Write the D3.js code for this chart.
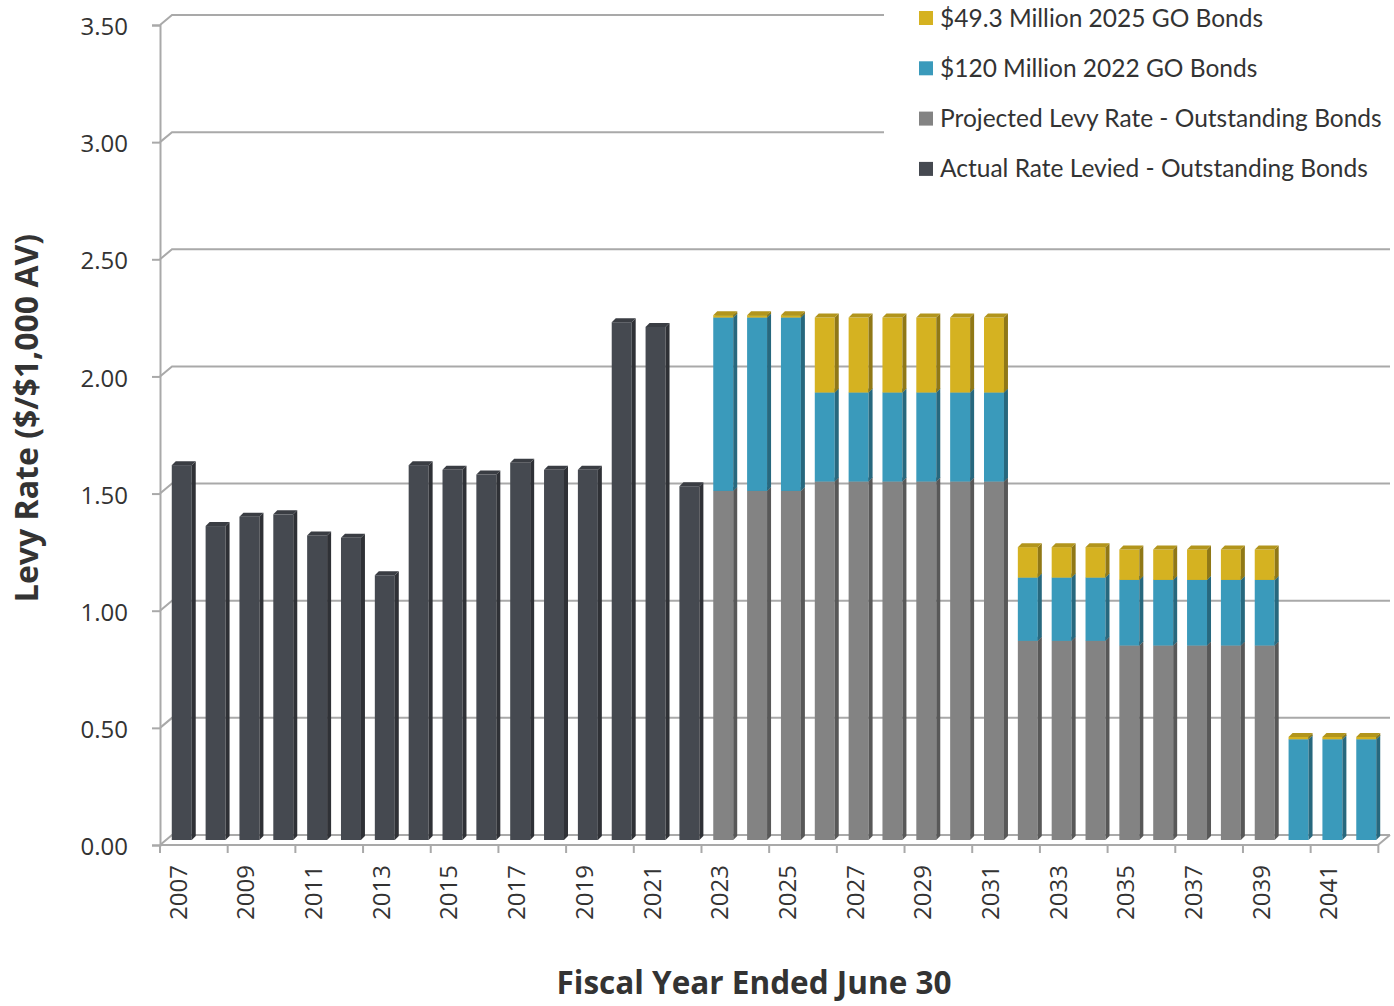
<!DOCTYPE html>
<html>
<head>
<meta charset="utf-8">
<script src="https://cdn.jsdelivr.net/npm/d3@7"></script>
<style>
  body { margin: 0; background: #fff; }
  .chart text { font-family: "Open Sans", sans-serif; fill: #333; }
  .legend text { font-family: Lato, "Open Sans", sans-serif; }
</style>
</head>
<body>
<div class="chart"></div>
<script>
'use strict';
(function() {
  // Data
  var years = ['2007','2008','2009','2010','2011','2012','2013','2014','2015','2016','2017','2018',
    '2019','2020','2021','2022','2023','2024','2025','2026','2027','2028','2029','2030','2031',
    '2032','2033','2034','2035','2036','2037','2038','2039','2040','2041','2042'];
  var actual = [1.60, 1.34, 1.38, 1.39, 1.30, 1.29, 1.13, 1.60, 1.58, 1.56, 1.61, 1.58, 1.58, 2.21, 2.19, 1.51,
    0, 0, 0, 0, 0, 0, 0, 0, 0, 0, 0, 0, 0, 0, 0, 0, 0, 0, 0, 0];
  var projected = [0, 0, 0, 0, 0, 0, 0, 0, 0, 0, 0, 0, 0, 0, 0, 0,
    1.49, 1.49, 1.49, 1.53, 1.53, 1.53, 1.53, 1.53, 1.53, 0.85, 0.85, 0.85, 0.83, 0.83, 0.83, 0.83, 0.83, 0, 0, 0];
  var go2022 = [0, 0, 0, 0, 0, 0, 0, 0, 0, 0, 0, 0, 0, 0, 0, 0,
    0.74, 0.74, 0.74, 0.38, 0.38, 0.38, 0.38, 0.38, 0.38, 0.27, 0.27, 0.27, 0.28, 0.28, 0.28, 0.28, 0.28, 0.43, 0.43, 0.43];
  var go2025 = [0, 0, 0, 0, 0, 0, 0, 0, 0, 0, 0, 0, 0, 0, 0, 0,
    0.01, 0.01, 0.01, 0.32, 0.32, 0.32, 0.32, 0.32, 0.32, 0.13, 0.13, 0.13, 0.13, 0.13, 0.13, 0.13, 0.13, 0.01, 0.01, 0.01];
  var yTicks = [0, 0.5, 1, 1.5, 2, 2.5, 3, 3.5];
  var labelYears = ['2007','2009','2011','2013','2015','2017','2019','2021','2023','2025','2027','2029',
    '2031','2033','2035','2037','2039','2041'];

  var KEYS = ['actual', 'projected', 'go2022', 'go2025'];
  var NAMES = {
    go2025: '$49.3 Million 2025 GO Bonds',
    go2022: '$120 Million 2022 GO Bonds',
    projected: 'Projected Levy Rate - Outstanding Bonds',
    actual: 'Actual Rate Levied - Outstanding Bonds'
  };
  var COLORS = { actual: '#454950', projected: '#838383', go2022: '#3a9abb', go2025: '#d5b221' };

  // Sizes
  var w = 1394;
  var h = 1006;
  var left = 160;
  var right = 1378;
  var top = 25;
  var bottom = 845;
  // 3d offsets: back wall and bar plane
  var backX = 12, backY = -10;
  var barX = 5, barY = -5;
  var depthX = 4, depthY = -4;

  var rows = years.map(function(y, i) {
    return { year: y, actual: actual[i], projected: projected[i], go2022: go2022[i], go2025: go2025[i] };
  });
  var series = d3.stack().keys(KEYS)(rows);

  var xScale = d3.scaleBand()
    .domain(years)
    .range([left, right])
    .paddingInner(0.41)
    .paddingOuter(0.2);

  var yScale = d3.scaleLinear()
    .domain([0, 3.5])
    .range([bottom, top]);

  var svg = d3.select('.chart')
    .append('svg')
    .attr('width', w)
    .attr('height', h);

  var gridColor = '#a9a9a9';

  // Back wall gridlines
  var grid = svg.append('g').attr('class', 'grid');
  grid.selectAll('polyline')
    .data(yTicks)
    .enter()
    .append('polyline')
    .attr('points', function(d) {
      var y = yScale(d);
      return left + ',' + y + ' ' + (left + backX) + ',' + (y + backY) + ' ' + (w - 4) + ',' + (y + backY);
    })
    .attr('fill', 'none')
    .attr('stroke', gridColor)
    .attr('stroke-width', 2);

  // Floor front edge and right edge
  grid.append('polyline')
    .attr('points', left + ',' + bottom + ' ' + right + ',' + bottom + ' ' + (right + backX) + ',' + (bottom + backY))
    .attr('fill', 'none')
    .attr('stroke', gridColor)
    .attr('stroke-width', 2);

  // Legend background hides gridlines
  svg.append('rect')
    .attr('x', 884)
    .attr('y', 0)
    .attr('width', w - 884)
    .attr('height', 192)
    .attr('fill', '#fff');

  // Y axis
  var yAxis = d3.axisLeft(yScale)
    .tickValues(yTicks)
    .tickSize(8)
    .tickPadding(24)
    .tickFormat(d3.format('.2f'));

  var yg = svg.append('g')
    .attr('class', 'axis')
    .attr('transform', 'translate(' + left + ',0)')
    .call(yAxis);
  yg.select('.domain').attr('stroke', gridColor).attr('stroke-width', 2);
  yg.selectAll('.tick line').attr('stroke', gridColor).attr('stroke-width', 2);
  yg.selectAll('.tick text')
    .attr('font-size', '24px')
    .attr('dy', '0.4em')
    .attr('font-family', '"Open Sans", sans-serif')
    .attr('fill', '#333');

  // X axis ticks every two years at category boundaries
  var step = xScale.step();
  var xg = svg.append('g').attr('class', 'xaxis');
  xg.selectAll('line')
    .data(labelYears.concat(['end']))
    .enter()
    .append('line')
    .attr('x1', function(d, i) { return left + i * 2 * step; })
    .attr('x2', function(d, i) { return left + i * 2 * step; })
    .attr('y1', bottom)
    .attr('y2', bottom + 8)
    .attr('stroke', gridColor)
    .attr('stroke-width', 2);

  xg.selectAll('text')
    .data(labelYears)
    .enter()
    .append('text')
    .text(function(d) { return d; })
    .attr('transform', function(d) {
      var cx = xScale(d) + xScale.bandwidth() / 2 + 10;
      return 'translate(' + cx + ',' + (bottom + 20) + ') rotate(-90)';
    })
    .attr('text-anchor', 'end')
    .attr('font-size', '24px');

  // Shading helper
  var shade = function(c, k) {
    return d3.color(c).darker(k).formatHex();
  };

  // Bars
  var bars = svg.append('g').attr('class', 'bars');
  var bw = xScale.bandwidth();
  years.forEach(function(year, i) {
    var g = bars.append('g');
    series.forEach(function(s) {
      var d = s[i];
      if (d[1] - d[0] <= 0) return;
      var c = COLORS[s.key];
      var x0 = xScale(year) + barX;
      var y0 = yScale(d[1]) + barY;
      var y1 = yScale(d[0]) + barY;
      // front face
      g.append('rect')
        .attr('x', x0)
        .attr('y', y0)
        .attr('width', bw)
        .attr('height', y1 - y0)
        .attr('fill', c);
      // side face
      g.append('polygon')
        .attr('points', [
          [x0 + bw, y0], [x0 + bw + depthX, y0 + depthY],
          [x0 + bw + depthX, y1 + depthY], [x0 + bw, y1]
        ].join(' '))
        .attr('fill', shade(c, 1.1));
      // top face
      g.append('polygon')
        .attr('points', [
          [x0, y0], [x0 + depthX, y0 + depthY],
          [x0 + bw + depthX, y0 + depthY], [x0 + bw, y0]
        ].join(' '))
        .attr('fill', shade(c, 0.5));
    });
  });

  // Legend
  var legendKeys = ['go2025', 'go2022', 'projected', 'actual'];
  var legend = svg.append('g').attr('class', 'legend');
  var item = legend.selectAll('g')
    .data(legendKeys)
    .enter()
    .append('g')
    .attr('transform', function(d, i) { return 'translate(919,' + (18 + i * 50.3) + ')'; });
  item.append('rect')
    .attr('x', 0)
    .attr('y', -7)
    .attr('width', 14)
    .attr('height', 14)
    .attr('fill', function(d) { return COLORS[d]; });
  item.append('text')
    .text(function(d) { return NAMES[d]; })
    .attr('x', 21)
    .attr('dy', '0.35em')
    .attr('font-size', '24.5px');

  // Axis titles
  svg.append('text')
    .text('Fiscal Year Ended June 30')
    .attr('x', 754)
    .attr('y', 994)
    .attr('text-anchor', 'middle')
    .attr('font-size', '31.5px')
    .attr('font-weight', 'bold')
    .attr('font-family', 'Lato, sans-serif')
    .attr('fill', '#222');

  svg.append('text')
    .text('Levy Rate ($/$1,000 AV)')
    .attr('transform', 'translate(38,418) rotate(-90)')
    .attr('text-anchor', 'middle')
    .attr('font-size', '32px')
    .attr('font-weight', 'bold')
    .attr('font-family', 'Lato, sans-serif')
    .attr('fill', '#222');
})();
</script>
</body>
</html>
